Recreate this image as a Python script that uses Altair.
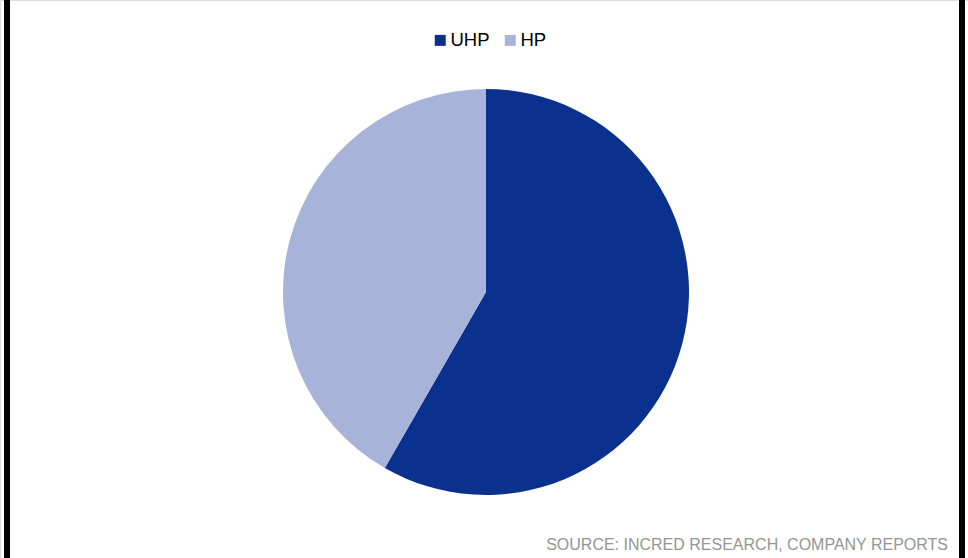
import altair as alt
import pandas as pd

# Share of output by product grade
grades = ["UHP", "HP"]
shares = [58.3, 41.7]
order_idx = [0, 1]
palette = ["#0B318F", "#A8B3D9"]

df = pd.DataFrame({"grade": grades, "share": shares, "ord": order_idx})

W, H = 968, 558

pie = alt.Chart(df).mark_arc(x=486, y=292, outerRadius=203).encode(
    theta=alt.Theta("share:Q", stack=True),
    order=alt.Order("ord:Q"),
    color=alt.Color(
        "grade:N",
        sort=grades,
        scale=alt.Scale(domain=grades, range=palette),
        legend=alt.Legend(
            title=None,
            orient="none",
            legendX=431,
            legendY=31,
            direction="horizontal",
            symbolType="square",
            symbolSize=121,
            symbolStrokeWidth=0,
            labelFont="Liberation Sans",
            labelFontSize=18.5,
            labelColor="#000000",
            labelOffset=1,
            columnPadding=11,
        ),
    ),
)

# Frame rules on the left and right edges
edges = pd.DataFrame({"xpos": [7, 962]})
frame = alt.Chart(edges).mark_rule(color="#000000", strokeWidth=6).encode(
    x=alt.X("xpos:Q", scale=alt.Scale(domain=[0, W], range=[0, W]), axis=None),
    y=alt.value(0),
    y2=alt.value(H),
)

source = alt.Chart(pd.DataFrame({"t": ["SOURCE: INCRED RESEARCH, COMPANY REPORTS"]})).mark_text(
    align="right",
    baseline="alphabetic",
    font="Liberation Sans",
    fontSize=16,
    color="#959595",
).encode(x=alt.value(948), y=alt.value(550), text="t:N")

chart = (
    alt.layer(pie, frame, source)
    .resolve_scale(color="independent")
    .properties(width=W, height=H, padding=0, autosize=alt.AutoSizeParams(type="none"))
    .configure_view(stroke=None)
    .configure(background="#ffffff")
)

chart.save("out.html", embed_options={"renderer": "svg", "actions": False})
